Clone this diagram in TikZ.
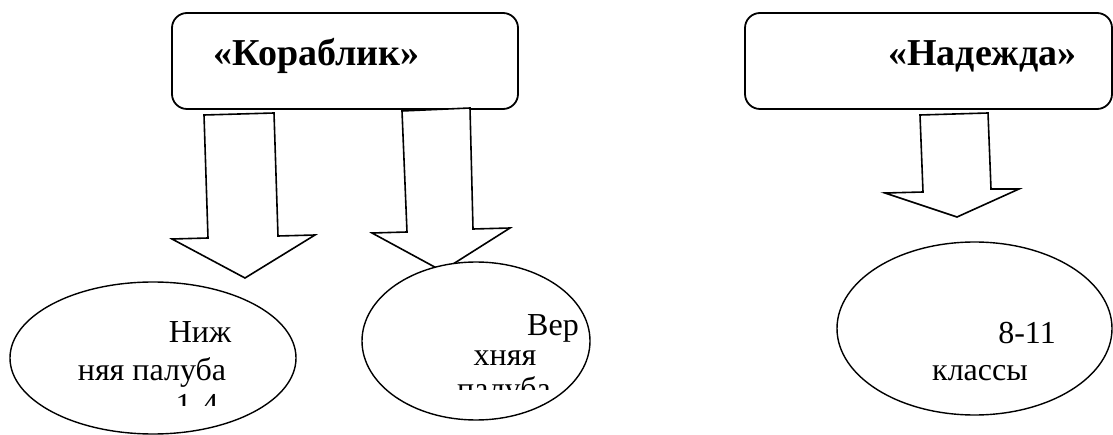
\documentclass[tikz,border=0pt]{standalone}
\usepackage{fontspec}
\setmainfont{Liberation Serif}
\usetikzlibrary{shapes.geometric}
\tikzset{
  titlebox/.style={draw, line width=1.8pt, rounded corners=15pt, inner sep=0pt, fill=white},
  blockarrow/.style={draw, line width=1.6pt, fill=white, line join=miter},
  oval/.style={ellipse, draw, line width=1.4pt, fill=white, inner sep=0pt},
  titletext/.style={font=\fontsize{38}{42}\selectfont\bfseries, anchor=base, inner sep=0pt},
  ovaltext/.style={font=\fontsize{32}{36}\selectfont, anchor=base, inner sep=0pt},
}
\begin{document}
\begin{tikzpicture}[x=1pt,y=-1pt]
\useasboundingbox (0,0) rectangle (1113,435);
% title boxes
\node[titlebox, minimum width=346pt, minimum height=96pt] (box1) at (345,61) {};
\node[titlebox, minimum width=367pt, minimum height=96pt] (box2) at (928.5,61) {};
\node[titletext] (t1) at (316.5,66) {«Кораблик»};
\node[titletext] (t2) at (982.5,66) {«Надежда»};
% block arrows
\draw[blockarrow] (204,115) -- (274,113) -- (278,236) -- (315,235) -- (245,278) -- (172,239) -- (208,238) -- cycle;
\draw[blockarrow] (402,111) -- (470,108) -- (473,229) -- (510,228) -- (442,271) -- (372,233) -- (407,232) -- cycle;
\draw[blockarrow] (920,115) -- (988,113) -- (991,189) -- (1019,189) -- (957,217) -- (885,193) -- (923,192) -- cycle;
% ovals
\node[oval, minimum width=286pt, minimum height=152pt] (e1) at (153,358) {};
\node[oval, minimum width=228pt, minimum height=158pt] (e2) at (476,341) {};
\node[oval, minimum width=275pt, minimum height=173pt] (e3) at (974.5,328.5) {};
% oval texts
\begin{scope}
\clip (0,0) rectangle (330,405);
\node[ovaltext] (e1a) at (200,342) {Ниж};
\node[ovaltext] (e1b) at (152,380) {няя палуба};
\node[ovaltext] (e1c) at (197,415) {1-4};
\end{scope}
\begin{scope}
\clip (340,0) rectangle (620,389);
\node[ovaltext] (e2a) at (553,335) {Вер};
\node[ovaltext] (e2b) at (505,365) {хняя};
\node[ovaltext] (e2c) at (504,399) {палуба};
\end{scope}
\node[ovaltext] (e3a) at (1027,343) {8-11};
\node[ovaltext] (e3b) at (980,380) {классы};
\end{tikzpicture}
\end{document}
